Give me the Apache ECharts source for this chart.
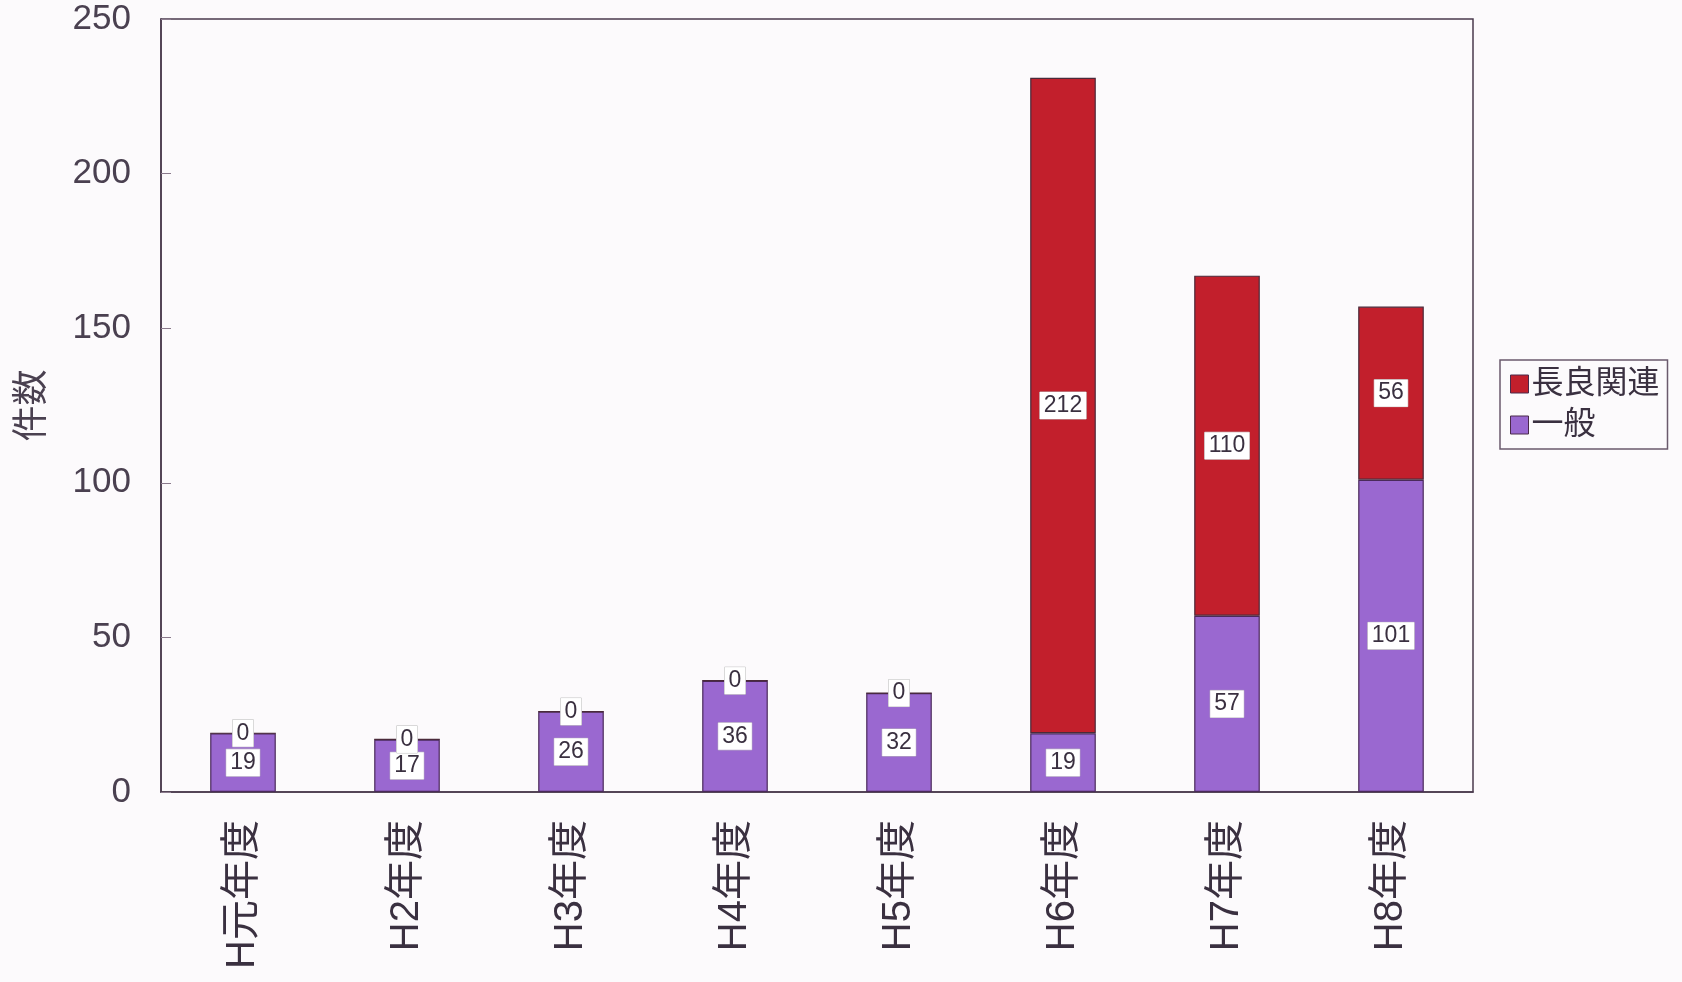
<!DOCTYPE html>
<html><head><meta charset="utf-8">
<script src="https://cdn.jsdelivr.net/npm/echarts@6/dist/echarts.min.js"></script>
<style>html,body{margin:0;padding:0;background:#fcfafc;}#c{width:1682px;height:982px;}</style>
</head><body><div id="c"></div>
<script>
const categories = ['H元年度','H2年度','H3年度','H4年度','H5年度','H6年度','H7年度','H8年度'];
const general = [19,17,26,36,32,19,57,101];
const nagara = [0,0,0,0,0,212,110,56];
const yTicks = [0,50,100,150,200,250];

const FONT = '"Liberation Sans","Noto Sans CJK JP",sans-serif';
const axisColor = '#4a3a4c';
const labelStyle = {
  show: true, position: 'inside', color: '#3a3040', fontSize: 23, fontFamily: FONT,
  backgroundColor: '#ffffff', padding: [3, 4, 1, 4], borderColor: '#bbb', borderWidth: 0.5
};
const chart = echarts.init(document.getElementById('c'));
chart.setOption({
  backgroundColor: '#fcfafc',
  animation: false,
  grid: { left: 161, right: 209, top: 19, bottom: 190, show: true, borderColor: axisColor, borderWidth: 1.5 },
  legend: {
    orient: 'vertical', left: 1500, top: 360,
    data: ['長良関連','一般'],
    icon: 'rect', itemWidth: 18, itemHeight: 18, itemGap: 9, itemStyle: { borderColor: '#4a2a4a', borderWidth: 1 },
    borderColor: '#6a5a6c', borderWidth: 1.5, padding: [8, 8, 8, 10],
    textStyle: { fontSize: 32, color: '#3a3040', fontFamily: FONT, padding: [0, 0, 0, -2] },
    backgroundColor: '#fcfafc'
  },
  xAxis: {
    type: 'category', data: categories,
    axisLine: { lineStyle: { color: axisColor, width: 1.5 } },
    axisTick: { inside: true, length: 8, lineStyle: { color: '#8a7a8c' } },
    axisLabel: { rotate: 90, margin: 28, fontSize: 40, color: '#3a3040', fontFamily: FONT }
  },
  yAxis: {
    type: 'value', min: 0, max: 250, interval: 50,
    name: '件数', nameLocation: 'middle', nameGap: 110, nameRotate: 90,
    nameTextStyle: { fontSize: 36, color: '#4a4050', fontFamily: FONT },
    axisLine: { show: true, lineStyle: { color: axisColor, width: 1.5 } },
    axisTick: { show: true, inside: true, length: 10, lineStyle: { color: '#8a7a8c' } },
    splitLine: { show: false },
    axisLabel: { fontSize: 35, color: '#4a4050', margin: 30, fontFamily: FONT,
      formatter: v => yTicks.includes(v) ? String(v) : '' }
  },
  series: [
    { name: '一般', type: 'bar', stack: 't', data: general, barWidth: '40%',
      itemStyle: { color: '#9a68d0', borderColor: '#4a2a5a', borderWidth: 1.2 },
      label: labelStyle },
    { name: '長良関連', type: 'bar', stack: 't', data: nagara, barWidth: '40%',
      itemStyle: { color: '#c21f2c', borderColor: '#4a2a3a', borderWidth: 1.2 },
      label: Object.assign({}, labelStyle) }
  ]
});
</script></body></html>
